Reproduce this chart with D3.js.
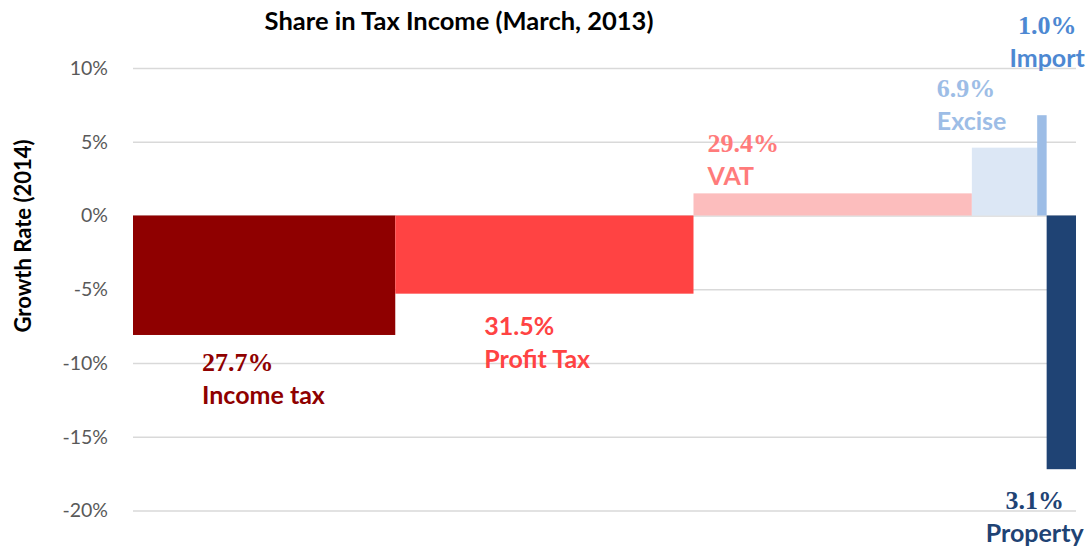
<!DOCTYPE html>
<html>
<head>
<meta charset="utf-8">
<script src="https://cdn.jsdelivr.net/npm/d3@7"></script>
<style>
  body { margin: 0; background: #fff; }
  svg { display: block; }
</style>
</head>
<body>
<svg class="chart" width="1089" height="550"></svg>
<script>
// data
var categories = ["Income tax", "Profit Tax", "VAT", "Excise", "Import", "Property"];
var shares = [27.7, 31.5, 29.4, 6.9, 1.0, 3.1];          // share in tax income, %
var growth = [-8.1, -5.3, 1.5, 4.6, 6.8, -17.2];         // growth rate 2014, %
var yTicks = [10, 5, 0, -5, -10, -15, -20];

var barColors = ["#8f0000", "#ff4343", "#fcbdbd", "#dce7f5", "#9dbde6", "#1f4374"];
var labelColors = ["#8f0000", "#ff4343", "#ff7b7b", "#9dbde6", "#4d88d2", "#1f4374"];

// label layout: offset from the bar's start and outer end
var labelLayout = [
  {dx: 69, dy: 36, anchor: "start", serif: true},
  {dx: 89, dy: 41, anchor: "start", serif: false},
  {dx: 14, dy: -41, anchor: "start", serif: true},
  {dx: -35, dy: -51, anchor: "start", serif: true},
  {dx: 10, dy: -81, anchor: "middle", serif: true},
  {dx: -12, dy: 40, anchor: "middle", serif: true}
];

var svg = d3.select("svg.chart");
var margin = {top: 68, right: 13, bottom: 40, left: 133},
    width = 1089 - margin.left - margin.right,
    height = 510.5 - margin.top;

var bars = categories.map(function(c, i) {
  var start = d3.sum(shares.slice(0, i));
  return {name: c, share: shares[i], growth: growth[i], start: start, end: start + shares[i], i: i};
});

var x = d3.scaleLinear()
    .domain([0, d3.sum(shares)])
    .range([margin.left, margin.left + width]);

var y = d3.scaleLinear()
    .domain([-20, 10])
    .range([margin.top + height, margin.top]);

// gridlines
svg.append("g")
    .attr("class", "grid")
    .attr("transform", "translate(" + margin.left + ",0)")
    .call(d3.axisLeft(y).tickValues(yTicks).tickSize(-width).tickFormat(""))
    .call(function(g) { g.select(".domain").remove(); })
    .selectAll("line")
    .attr("stroke", "#d9d9d9")
    .attr("stroke-width", 1.5);

// tick labels
svg.append("g")
    .attr("class", "axis axis--y")
    .attr("transform", "translate(" + (margin.left - 22) + ",0)")
    .call(d3.axisLeft(y).tickValues(yTicks).tickSize(0).tickFormat(function(d) { return d + "%"; }))
    .call(function(g) { g.select(".domain").remove(); })
    .selectAll("text")
    .attr("fill", "#595959")
    .style("font", "19.5px Lato, sans-serif");

// bars
svg.append("g")
  .selectAll("rect")
  .data(bars)
  .enter().append("rect")
    .attr("x", function(d) { return x(d.start); })
    .attr("width", function(d) { return x(d.end) - x(d.start); })
    .attr("y", function(d) { return y(Math.max(0, d.growth)); })
    .attr("height", function(d) { return Math.abs(y(d.growth) - y(0)); })
    .attr("fill", function(d) { return barColors[d.i]; });

// labels
var lab = svg.append("g")
  .selectAll("g")
  .data(bars)
  .enter().append("g")
    .attr("transform", function(d) {
      var L = labelLayout[d.i];
      return "translate(" + (x(d.start) + L.dx) + "," + (y(d.growth) + L.dy) + ")";
    })
    .attr("fill", function(d) { return labelColors[d.i]; })
    .attr("text-anchor", function(d) { return labelLayout[d.i].anchor; });

lab.append("text")
    .style("font-family", function(d) { return labelLayout[d.i].serif ? "'Liberation Serif', serif" : "Lato, sans-serif"; })
    .style("font-size", function(d) { return labelLayout[d.i].serif ? "26px" : "25px"; })
    .style("font-weight", "bold")
    .text(function(d) { return d.share.toFixed(1) + "%"; });

lab.append("text")
    .attr("y", 33)
    .style("font", "bold 25px Lato, sans-serif")
    .text(function(d) { return d.name; });

// title
svg.append("text")
    .attr("x", 459)
    .attr("y", 30)
    .attr("text-anchor", "middle")
    .style("font", "bold 25.5px Lato, sans-serif")
    .text("Share in Tax Income (March, 2013)");

// y axis title
svg.append("text")
    .attr("transform", "translate(31," + 236 + ") rotate(-90)")
    .attr("text-anchor", "middle")
    .style("font", "bold 22px Lato, sans-serif")
    .text("Growth Rate (2014)");
</script>
</body>
</html>
